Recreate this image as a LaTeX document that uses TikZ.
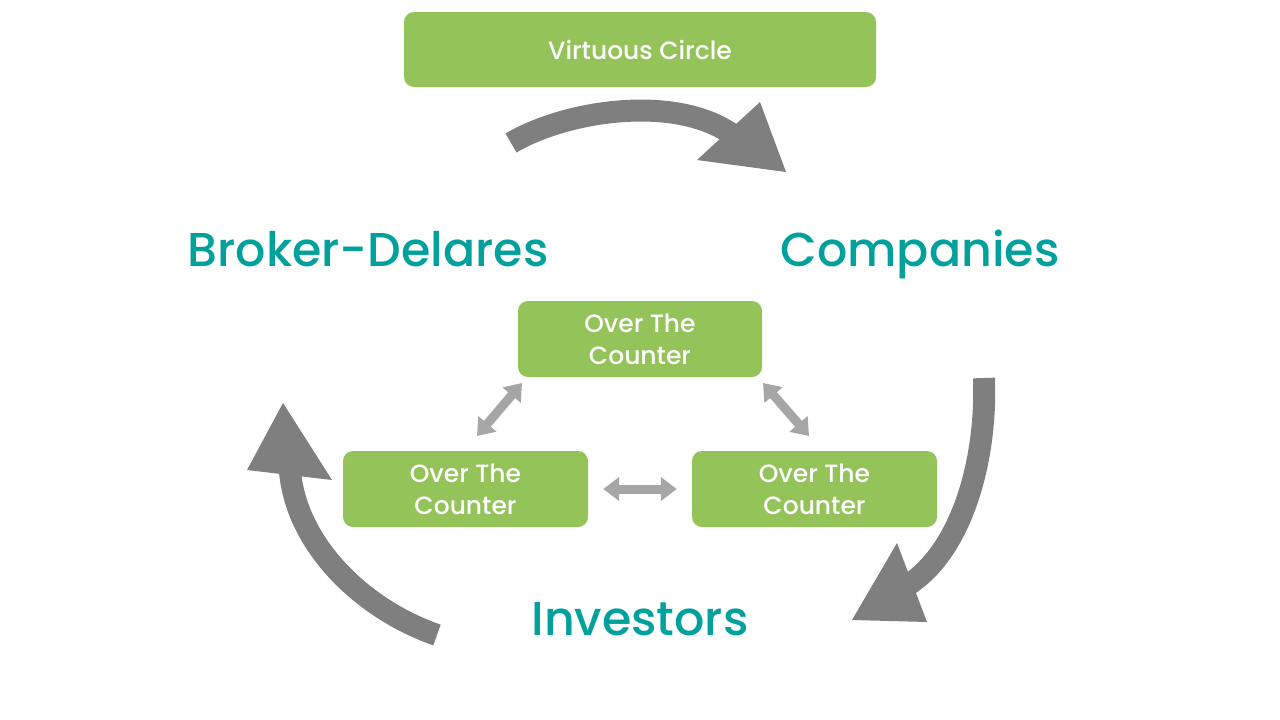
\documentclass[tikz,border=0pt]{standalone}
\usepackage{fontspec}
\setmainfont{Poppins Medium}
\usetikzlibrary{arrows.meta}
\definecolor{boxgreen}{HTML}{94C35A}
\definecolor{teal2}{HTML}{00A19C}
\definecolor{biggray}{HTML}{7F7F7F}
\definecolor{smallgray}{HTML}{A6A6A6}
\tikzset{
  gbox/.style={fill=boxgreen, rounded corners=10pt, text=white, align=center, inner sep=0pt},
  bigtext/.style={text=teal2, font=\fontsize{47.5}{50}\selectfont, inner sep=0pt, anchor=base},
  shaft/.style={draw=biggray, line width=22pt},
  head/.style={fill=biggray},
  dbl/.style={draw=smallgray, line width=9pt, {Triangle[length=16pt,width=23pt]}-{Triangle[length=16pt,width=23pt]}}
}
\begin{document}
\begin{tikzpicture}[x=1pt,y=-1pt]
\useasboundingbox (0,0) rectangle (1280,720);
% boxes
\node[gbox, minimum width=472pt, minimum height=75pt, font=\fontsize{25}{26}\selectfont] (vc) at (640,49.5) {Virtuous Circle};
\node[gbox, minimum width=244pt, minimum height=76pt, font=\fontsize{25}{32}\selectfont] (mt) at (640,339) {Over The\\Counter};
\node[gbox, minimum width=245pt, minimum height=76pt, font=\fontsize{25}{32}\selectfont] (lb) at (465.5,489) {Over The\\Counter};
\node[gbox, minimum width=245pt, minimum height=76pt, font=\fontsize{25}{32}\selectfont] (rb) at (814.5,489) {Over The\\Counter};
% labels
\node[bigtext] (bd) at (368,266) {Broker-Delares};
\node[bigtext] (co) at (920,266) {Companies};
\node[bigtext] (in) at (640,635) {Investors};
% small double arrows
\coordinate (la1) at (477,436);
\coordinate (la2) at (522,383);
\coordinate (ra1) at (763,383);
\coordinate (ra2) at (809,436);
\draw[dbl] (la1) -- (la2);
\draw[dbl] (ra1) -- (ra2);
\draw[dbl, shorten <=15pt, shorten >=15pt] (lb.east) -- (rb.west);
% big arrows
\coordinate (t0) at (511,143);
\coordinate (t1) at (733,135);
\draw[shaft] (t0) .. controls (567,110) and (676,94) .. (t1);
\fill[head] (760,102) -- (786,172) -- (697,160) -- cycle;
\coordinate (r0) at (984,378);
\coordinate (r1) at (908,585);
\draw[shaft] (r0) .. controls (987,460) and (962,550) .. (r1);
\fill[head] (897,543) -- (852,620) -- (927,622) -- cycle;
\coordinate (l0) at (437,635);
\coordinate (l1) at (290,472);
\draw[shaft] (l0) .. controls (362,609) and (297,545) .. (l1);
\fill[head] (283,403) -- (247,470) -- (332,480) -- cycle;
\end{tikzpicture}
\end{document}
